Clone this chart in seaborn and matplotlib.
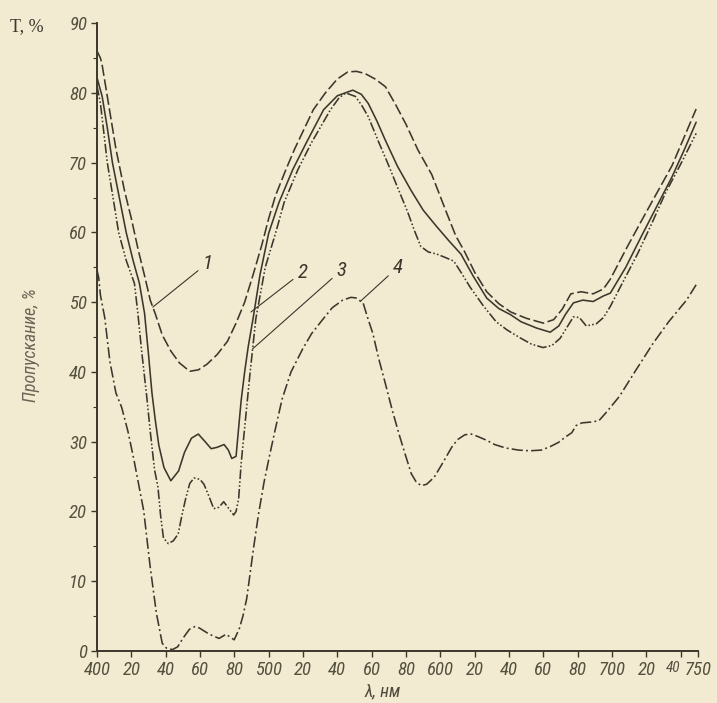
import pandas as pd
import matplotlib
matplotlib.use("Agg")
from matplotlib import pyplot as plt
from matplotlib import font_manager
import seaborn as sns

# Кривые пропускания 1-4, λ в нм, T в %
wl_1 = [400, 402, 403, 407, 411, 416, 420, 424, 428, 431, 434, 438, 443, 448, 454, 459, 464, 470, 476, 481,
        486, 491, 496, 500, 504, 510, 515, 520, 526, 533, 540, 546, 551, 556, 562, 568, 574, 580, 587, 595,
        604, 609, 614, 620, 627, 634, 641, 650, 660, 666, 671, 676, 682, 689, 695, 699, 709, 719, 735, 749]
t_1 = [86.0, 85.0, 84.0, 78.0, 72.0, 66.0, 62.0, 57.5, 53.5, 50.3, 48.3, 45.3, 43.0, 41.3, 40.1, 40.3, 41.1, 42.5, 44.4, 47.0,
       50.0, 54.0, 58.2, 62.0, 65.3, 69.0, 71.9, 74.5, 77.6, 80.0, 82.0, 83.0, 83.1, 82.8, 82.0, 80.9, 78.3, 75.5, 71.8, 68.3,
       62.6, 59.5, 57.3, 54.3, 51.5, 49.8, 48.6, 47.7, 47.0, 47.5, 49.0, 51.2, 51.5, 51.2, 51.9, 53.3, 58.0, 62.5, 69.6, 77.7]

wl_2 = [400, 403, 406, 409, 413, 417, 421, 424.7, 427.7, 430, 432, 434, 436, 439, 443, 447.5, 451, 455, 459, 463,
        466.5, 470, 474, 476.5, 478.5, 481, 482.5, 484, 486, 488, 491, 495, 500, 506, 514, 522, 532, 540, 549, 554,
        558, 563, 568, 575, 583, 590, 598, 605, 612, 619, 627, 634, 641, 647, 656, 664, 669, 673, 677.5, 683,
        689, 695, 699, 708, 717, 726, 735, 742, 749]
t_2 = [82.2, 79.5, 75.0, 70.0, 65.0, 60.0, 56.0, 52.7, 48.4, 42.5, 37.0, 33.0, 29.5, 26.3, 24.4, 25.8, 28.5, 30.5, 31.1, 30.0,
       29.0, 29.2, 29.6, 28.8, 27.6, 27.9, 32.0, 36.0, 40.0, 43.5, 47.8, 54.0, 59.9, 64.3, 69.0, 72.9, 77.6, 79.6, 80.4, 79.8,
       78.5, 76.0, 73.2, 69.5, 66.0, 63.2, 60.8, 58.8, 56.9, 53.8, 50.6, 49.1, 48.2, 47.2, 46.3, 45.7, 46.6, 48.3, 49.9, 50.3,
       50.1, 50.9, 51.3, 55.0, 59.4, 63.7, 68.0, 71.8, 75.8]

wl_3 = [400, 402, 406, 409, 412.6, 417, 421.8, 423.8, 426, 429, 431, 433.5, 435.5, 437, 438.7, 441.5, 444.5, 447.3, 449.5, 451.7,
        454, 456.5, 460, 462.3, 465, 468, 471, 473.8, 476.5, 479.6, 481, 482.5, 484, 486, 489, 492.5, 498, 504, 509, 517,
        525, 536, 541, 545, 550.5, 554, 558, 564, 569.4, 575, 580.7, 585, 588.6, 593, 597.9, 602, 607.8, 612, 617.5, 625,
        632.5, 639, 646.4, 653, 659.8, 665, 669.7, 674, 677.5, 681, 685, 690.8, 695, 699, 707, 715, 723, 731, 740, 749]
t_3 = [81.0, 78.5, 70.0, 65.5, 60.0, 56.0, 52.7, 48.4, 43.0, 36.4, 31.5, 26.0, 23.5, 19.5, 16.2, 15.4, 15.8, 16.8, 19.5, 21.9,
       24.0, 24.8, 24.6, 23.9, 22.3, 20.4, 20.6, 21.4, 20.5, 19.5, 20.0, 21.8, 27.0, 32.0, 39.5, 47.6, 55.0, 59.9, 64.3, 69.0,
       72.9, 77.6, 79.3, 80.0, 79.5, 78.3, 76.6, 73.0, 69.9, 66.5, 63.1, 60.2, 58.0, 57.2, 56.9, 56.5, 55.9, 54.3, 52.1, 49.5,
       47.2, 46.0, 44.9, 44.0, 43.5, 43.8, 44.8, 46.5, 47.9, 47.8, 46.6, 46.9, 47.8, 49.4, 53.2, 57.0, 61.2, 65.6, 69.8, 74.2]

wl_4 = [400, 401, 402, 404.5, 407.5, 411, 414.4, 418, 421.6, 427.2, 431, 434.6, 438, 440.5, 444, 447, 450, 453.8, 457, 459.6,
        465.4, 471.1, 475.2, 477.5, 479.9, 482.9, 485, 487.2, 491.1, 494, 497.3, 500.5, 503.5, 507.8, 513, 519.8, 525, 531.4,
        537, 543.1, 548, 551, 555, 558, 560.7, 564, 567.9, 572, 575.8, 579.5, 583.1, 586, 588.9, 592, 596.4, 601, 606.6,
        610, 614.3, 618, 622.3, 627, 631.6, 638, 645.6, 652, 658.8, 664, 668.8, 673, 676.6, 679, 682.4, 687, 692.3, 697,
        704.3, 714, 723.9, 733, 743.4, 749]
t_4 = [54.6, 53.5, 51.0, 47.8, 41.5, 37.0, 34.9, 31.5, 27.3, 20.1, 12.0, 5.4, 1.1, 0.4, 0.2, 0.6, 1.8, 3.1, 3.5, 3.3,
       2.4, 1.8, 2.4, 2.0, 1.6, 3.2, 5.0, 7.5, 14.6, 19.5, 24.2, 28.0, 31.4, 36.1, 40.0, 43.3, 45.5, 47.5,
       49.2, 50.3, 50.7, 50.6, 49.9, 47.5, 45.5, 42.0, 38.4, 34.5, 31.2, 28.2, 25.4, 24.2, 23.7, 23.9, 24.9, 26.8, 29.2,
       30.3, 31.0, 31.1, 30.7, 30.2, 29.6, 29.1, 28.8, 28.7, 28.8, 29.3, 29.9, 30.7, 31.3, 32.3, 32.7, 32.8, 33.0, 34.3,
       36.5, 40.3, 44.1, 47.2, 50.3, 52.5]

curve_names = ["1", "2", "3", "4"]
x_ticks = [400, 420, 440, 460, 480, 500, 520, 540, 560, 580, 600, 620, 640, 660, 680, 700, 720, 740, 750]
x_tick_labels = ["400", "20", "40", "60", "80", "500", "20", "40", "60", "80", "600",
                 "20", "40", "60", "80", "700", "20", "40", "750"]
y_ticks = [0, 10, 20, 30, 40, 50, 60, 70, 80, 90]

# точки, куда указывают выноски с номерами кривых
label_tips = [(432.5, 49.3), (489.7, 48.6), (490.6, 43.3), (553.3, 50.1)]
label_spots = [(464.3, 55.6), (519.6, 54.3), (542.4, 54.6), (575.1, 55.0)]

frames = []
for name, wl, t in zip(curve_names, [wl_1, wl_2, wl_3, wl_4], [t_1, t_2, t_3, t_4]):
    frames.append(pd.DataFrame({"wl": wl, "T": t, "curve": name}))
df = pd.concat(frames, ignore_index=True)

ink = "#3b372b"
paper = "#f2ead1"

sns.set_theme(style="ticks")
names = {f.name for f in font_manager.fontManager.ttflist}
narrow = next((n for n in ["Liberation Sans Narrow", "DejaVu Sans Condensed", "Roboto Condensed",
                           "Liberation Sans"] if n in names), "DejaVu Sans")
plt.rcParams["font.family"] = [narrow, "DejaVu Sans"]
serif = "Liberation Serif" if "Liberation Serif" in names else "DejaVu Serif"

fig = plt.figure(figsize=(7.17, 7.03), dpi=100, facecolor=paper)
ax = fig.add_axes([0.1353, 0.074, 0.838, 0.893])
ax.set_facecolor(paper)

dash_map = {"1": (7, 2.2), "2": "", "3": (6, 1.4, 1, 1.4, 1, 1.4), "4": (7, 2, 1.2, 2)}
sns.lineplot(data=df, x="wl", y="T", style="curve", dashes=dash_map, color=ink, lw=1.15,
             estimator=None, legend=False, ax=ax)

for name, tip, spot in zip(curve_names, label_tips, label_spots):
    ax.annotate(name, xy=tip, xytext=spot, ha="center", va="center", fontsize=15, style="italic", color=ink,
                arrowprops=dict(arrowstyle="-", color=ink, lw=0.8, shrinkA=1, shrinkB=0))

ax.set_xlim(400, 750)
ax.set_ylim(0, 90)
sns.despine(ax=ax)
for side in ["left", "bottom"]:
    ax.spines[side].set_color(ink)
    ax.spines[side].set_linewidth(1.4)

ax.set_xticks(x_ticks)
ax.set_xticklabels(x_tick_labels)
ax.set_yticks(y_ticks)
ax.set_yticks(range(5, 90, 10), minor=True)
ax.tick_params(axis="both", which="major", direction="out", length=4, width=1, color=ink,
               labelcolor="#55513f", labelsize=13.5, pad=3)
ax.tick_params(axis="y", which="minor", direction="out", length=3, width=0.8, color=ink)
for lab in ax.get_xticklabels() + ax.get_yticklabels():
    lab.set_fontstyle("italic")
xl = ax.get_xticklabels()
xl[-2].set_horizontalalignment("right")
xl[-2].set_fontsize(11)
xl[-1].set_horizontalalignment("center")

ax.set_ylabel("Пропускание, %", fontsize=13, style="italic", color="#6a6555")
ax.yaxis.set_label_coords(-0.095, 0.487)
ax.set_xlabel("λ, нм", fontsize=13, style="italic", color="#4d493c")
ax.xaxis.set_label_coords(0.476, -0.05)

fig.text(0.014, 0.962, "T, %", family=serif, fontsize=13, color=ink, va="center", ha="left")

fig.savefig("out.png", dpi=100, facecolor=paper)
